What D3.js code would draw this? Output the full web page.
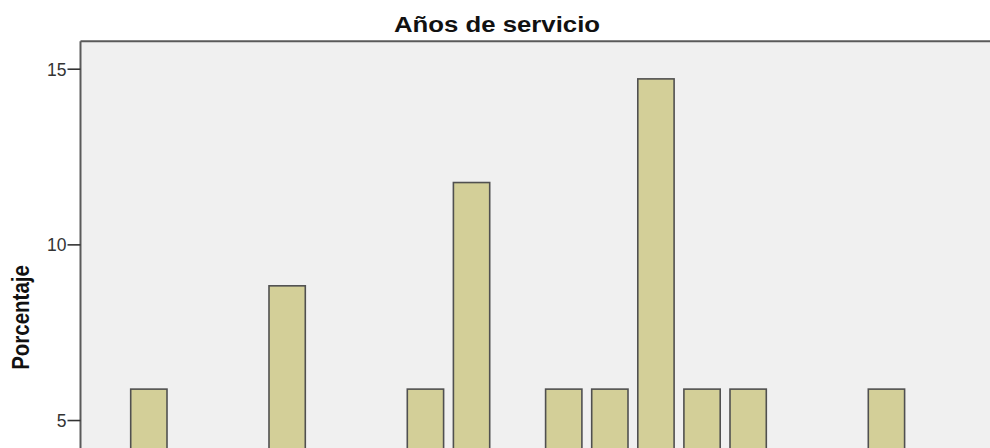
<!DOCTYPE html>
<html><head><meta charset="utf-8">
<script src="https://cdn.jsdelivr.net/npm/d3@7"></script>
<style>html,body{margin:0;padding:0;background:#fff;overflow:hidden}svg{display:block}</style>
</head><body>
<script>
// Data (percent of respondents per years-of-service category)
const categories = ["1","2","3","4","5","6","7","8","9","10","11","12","13","14","15","16","17","18"];
const values = [5.88,null,null,8.82,null,null,5.88,11.76,null,5.88,5.88,14.71,5.88,5.88,null,null,5.88,null];
const yTicks = [5,10,15];
const title = "Años de servicio";
const yLabel = "Porcentaje";

const W = 990, H = 448;
const frameL = 80.5, frameT = 41.3;
const y0px = 595.7;
const yMax = 15.78;
const step = 46.1, bw = 36.3, firstBar = 130.7;
const pi = (step - bw) / step;
const po = (firstBar - frameL) / step;
const r1 = frameL + step * (categories.length - pi + 2 * po);

const svg = d3.select("body").append("svg").attr("width", W).attr("height", H);

const x = d3.scaleBand().domain(categories).range([frameL, r1]).paddingInner(pi).paddingOuter(po);
const y = d3.scaleLinear().domain([0, yMax]).range([y0px, frameT]);

// plot background
svg.append("rect").attr("x", frameL).attr("y", frameT).attr("width", r1 - frameL + 40).attr("height", y0px - frameT)
  .attr("fill", "#f0f0f0");

// bars
svg.append("g").selectAll("rect").data(categories.map((c, i) => ({c, v: values[i]})).filter(d => d.v != null))
  .join("rect")
  .attr("x", d => x(d.c)).attr("width", x.bandwidth())
  .attr("y", d => y(d.v)).attr("height", d => y(0) - y(d.v))
  .attr("fill", "#d3cf98").attr("stroke", "#505050").attr("stroke-width", 1.6);

// frame top
svg.append("line").attr("x1", frameL).attr("x2", W + 10).attr("y1", frameT).attr("y2", frameT)
  .attr("stroke", "#5a5a5a").attr("stroke-width", 2);

// y axis
const yAxis = d3.axisLeft(y).tickValues(yTicks).tickSize(13).tickPadding(1).tickFormat(d3.format("d"));
const ga = svg.append("g").attr("transform", `translate(${frameL},0)`).call(yAxis);
ga.select(".domain").attr("d", `M0,${frameT}V${H + 10}`).attr("stroke", "#5a5a5a").attr("stroke-width", 2);
ga.selectAll(".tick line").attr("stroke", "#333").attr("stroke-width", 1.6);
ga.selectAll(".tick text").attr("font-family", "Liberation Sans, Arial, sans-serif").attr("font-size", 17.5)
  .attr("fill", "#333").attr("dy", "0.36em");

// title (source image is slightly stretched horizontally)
svg.append("text").attr("transform", "translate(497,31.7) scale(1.12,1)").attr("text-anchor", "middle")
  .attr("font-family", "Liberation Sans, Arial, sans-serif").attr("font-weight", "bold").attr("font-size", 23)
  .attr("fill", "#111").text(title);

// y label
svg.append("text").attr("transform", "translate(29,317.5) scale(1.18,1) rotate(-90)").attr("text-anchor", "middle")
  .attr("font-family", "Liberation Sans, Arial, sans-serif").attr("font-weight", "bold").attr("font-size", 20.5)
  .attr("fill", "#111").text(yLabel);
</script>
</body></html>
